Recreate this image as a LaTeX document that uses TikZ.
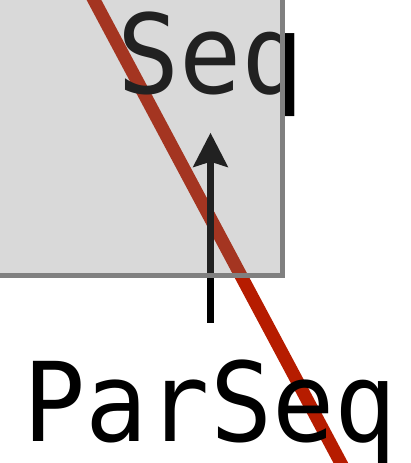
\documentclass[tikz,border=0pt]{standalone}
\usepackage{fontspec}
\setmainfont{DejaVu Sans}
\newfontfamily\labelmono[FakeStretch=0.94]{DejaVu Sans Mono}
\usetikzlibrary{arrows.meta}
\definecolor{boxgray}{RGB}{120,120,120}
\definecolor{boxline}{RGB}{128,128,128}
\definecolor{redline}{RGB}{182,28,0}
\tikzset{
  bigtext/.style={anchor=base west,inner sep=0pt,outer sep=0pt,font=\labelmono\fontsize{110}{120}\selectfont,text=black},
  overlaybox/.style={fill=boxgray,fill opacity=0.28,draw=boxline,draw opacity=1,line width=4.6pt},
  strike/.style={draw=redline,line width=13pt},
  uparrow/.style={draw=black,line width=7.5pt,-{Stealth[length=34pt,width=34pt,inset=5pt]}}
}
\begin{document}
\begin{tikzpicture}[x=1pt,y=1pt]
\useasboundingbox (0,0) rectangle (411,463);
\clip (0,0) rectangle (411,463);
% red strike line
\coordinate (r0) at (83.3,483);
\coordinate (r1) at (351.5,-20);
\draw[strike] (r0) -- (r1);
% texts
\node[bigtext] (seq) at (117.3,369.5) {Seq};
\node[bigtext] (parseq) at (23.5,21) {ParSeq};
% arrow
\coordinate (a0) at (210.5,140);
\coordinate (a1) at (210.5,330.3);
\draw[uparrow] (a0) -- (a1);
% overlay box
\node[overlaybox,anchor=north east,minimum width=320pt,minimum height=320pt,inner sep=0pt] (box) at (285,510) {};
\end{tikzpicture}
\end{document}
